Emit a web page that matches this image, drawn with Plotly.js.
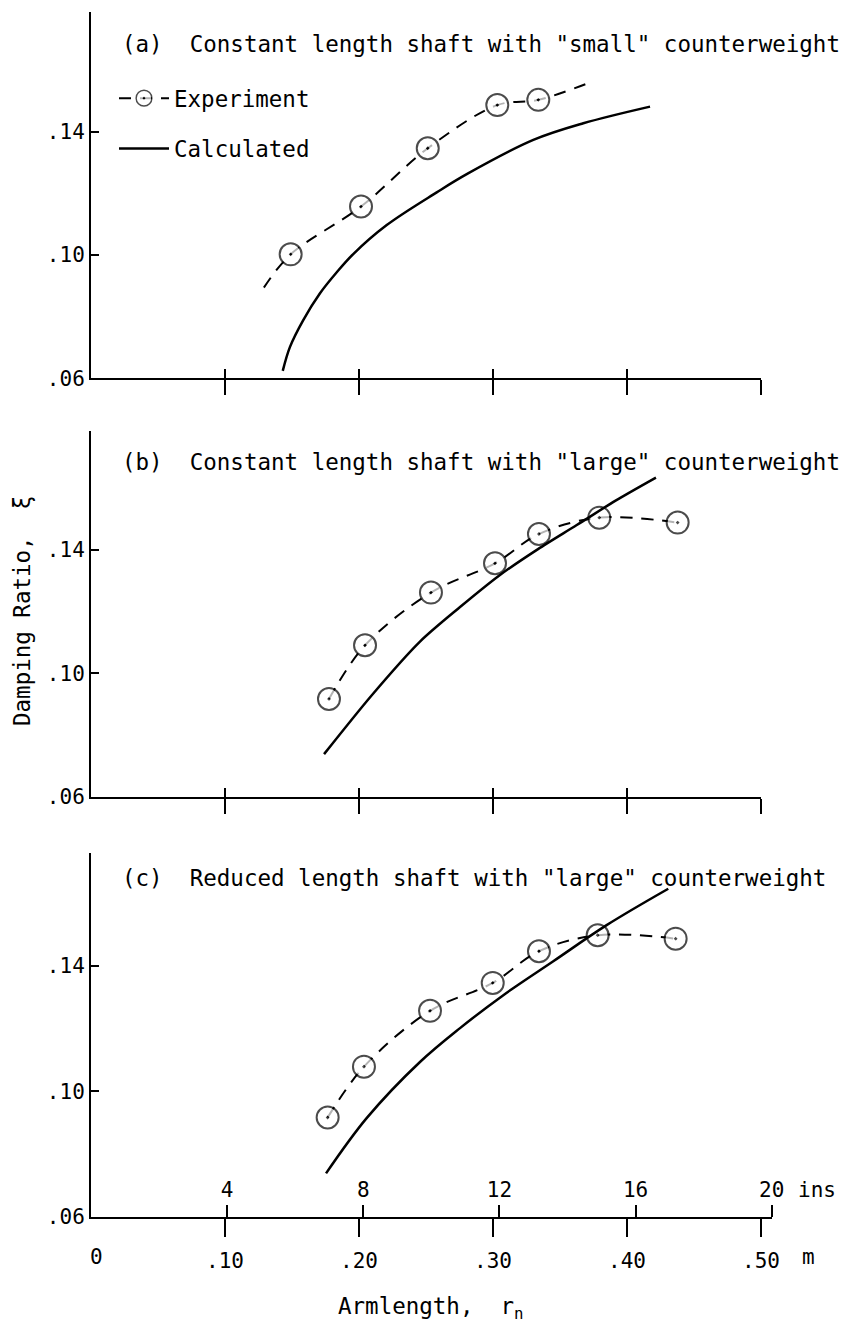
<!DOCTYPE html>
<html>
<head>
<meta charset="utf-8">
<script src="https://cdn.plot.ly/plotly-3.0.1.min.js"></script>
<style>html,body{margin:0;padding:0;background:#fff;}</style>
</head>
<body>
<div id="chart" style="width:846px;height:1331px;"></div>
<script>
// ---------------- data ----------------
// tick labels
const yTickVals = [0.06, 0.10, 0.14];
const yTickText = ['.06', '.10', '.14'];
const mTickVals = [0.1, 0.2, 0.3, 0.4, 0.5];
const mTickText = ['.10', '.20', '.30', '.40', '.50'];
const inTickVals = [4, 8, 12, 16, 20];
const inTickText = ['4', '8', '12', '16', '20'];

// panel titles
const titleA = '(a)\u00a0\u00a0Constant length shaft with "small" counterweight';
const titleB = '(b)\u00a0\u00a0Constant length shaft with "large" counterweight';
const titleC = '(c)\u00a0\u00a0Reduced length shaft with "large" counterweight';

// (a) constant length shaft, small counterweight   (armlength r_n [m], damping ratio)
const expA_r = [0.149, 0.2015, 0.2513, 0.3032, 0.3338];
const expA_z = [0.1002, 0.1157, 0.1346, 0.1486, 0.1503];
const expA_curveEnds_r = [0.129, 0.372];     // dashed experiment curve extends past the points
const expA_curveEnds_z = [0.0894, 0.1559];
const calcA_r = [0.1431, 0.1485, 0.1584, 0.1709, 0.1834, 0.1957, 0.2207, 0.2580, 0.2804, 0.3301, 0.3674, 0.4172];
const calcA_z = [0.0624, 0.0702, 0.0789, 0.0876, 0.0944, 0.1003, 0.1097, 0.1203, 0.1262, 0.1373, 0.1427, 0.1481];

// (b) constant length shaft, large counterweight
const expB_r = [0.1776, 0.2045, 0.2537, 0.3015, 0.3343, 0.3793, 0.4378];
const expB_z = [0.0917, 0.1091, 0.1262, 0.1357, 0.1452, 0.1505, 0.1489];
const calcB_r = [0.1739, 0.2097, 0.2455, 0.2754, 0.3052, 0.3336, 0.3625, 0.3918, 0.4216];
const calcB_z = [0.0738, 0.0930, 0.1103, 0.1215, 0.1319, 0.1403, 0.1481, 0.1561, 0.1635];

// (c) reduced length shaft, large counterweight
const expC_r = [0.1766, 0.2037, 0.2530, 0.2998, 0.3343, 0.3781, 0.4363];
const expC_z = [0.0917, 0.1079, 0.1257, 0.1346, 0.1447, 0.1498, 0.1487];
const calcC_r = [0.1754, 0.2057, 0.2455, 0.2754, 0.3077, 0.3450, 0.3848, 0.4308];
const calcC_z = [0.0739, 0.0915, 0.1094, 0.1202, 0.1307, 0.1415, 0.1530, 0.1646];

// ---------------- layout geometry ----------------
const W = 846, H = 1331;
const FONT = 'DejaVu Sans Mono, monospace';
const X0 = 91, PX_PER_M = 1340;
const M_PER_IN = 0.0254;
const fx = p => p / W;
const fy = p => 1 - p / H;
const domAB = [fx(X0), fx(X0 + 0.5 * PX_PER_M)];
const domC = [fx(X0), fx(X0 + 20 * M_PER_IN * PX_PER_M)];
const yTopA = 0.1787, yTopB = 0.1787, yTopC = 0.176;
const axisC_px = 1217;

const DASH = '12px,9px';
const MK = 22;

function expMarker(n, hiddenEnds) {
  const size = [], lw = [];
  for (let i = 0; i < n; i++) {
    const hide = hiddenEnds && (i === 0 || i === n - 1);
    size.push(hide ? 0 : MK);
    lw.push(hide ? 0 : 2);
  }
  return {symbol: 'circle-dot', size: size, color: 'white', line: {color: 'black', width: lw}};
}

const xA = [expA_curveEnds_r[0]].concat(expA_r, [expA_curveEnds_r[1]]);
const yA = [expA_curveEnds_z[0]].concat(expA_z, [expA_curveEnds_z[1]]);

// placeholder traces so that the secondary tick axes get drawn (no visible marks)
function axisHolder(xa, ya) {
  return {x: [null], y: [null], xaxis: xa, yaxis: ya, mode: 'markers', showlegend: false,
    hoverinfo: 'skip', marker: {size: 1, color: 'rgba(0,0,0,0)'}};
}

const traces = [
  {x: xA, y: yA, xaxis: 'x', yaxis: 'y', mode: 'lines+markers', name: 'Experiment',
   legendgroup: 'exp', showlegend: true,
   line: {color: 'black', width: 2, dash: DASH, shape: 'spline'}, marker: expMarker(xA.length, true)},
  {x: calcA_r, y: calcA_z, xaxis: 'x', yaxis: 'y', mode: 'lines', name: 'Calculated',
   legendgroup: 'calc', showlegend: true,
   line: {color: 'black', width: 2.5, shape: 'spline', smoothing: 1}},
  {x: expB_r, y: expB_z, xaxis: 'x2', yaxis: 'y2', mode: 'lines+markers', showlegend: false,
   line: {color: 'black', width: 2, dash: DASH, shape: 'spline'}, marker: expMarker(expB_r.length, false)},
  {x: calcB_r, y: calcB_z, xaxis: 'x2', yaxis: 'y2', mode: 'lines', showlegend: false,
   line: {color: 'black', width: 2.5, shape: 'spline', smoothing: 0.8}},
  {x: expC_r, y: expC_z, xaxis: 'x3', yaxis: 'y3', mode: 'lines+markers', showlegend: false,
   line: {color: 'black', width: 2, dash: DASH, shape: 'spline'}, marker: expMarker(expC_r.length, false)},
  {x: calcC_r, y: calcC_z, xaxis: 'x3', yaxis: 'y3', mode: 'lines', showlegend: false,
   line: {color: 'black', width: 2.5, shape: 'spline', smoothing: 1}},
  axisHolder('x4', 'y'),
  axisHolder('x5', 'y2'),
  axisHolder('x6', 'y3')
];

const tickFont = {family: FONT, size: 21, color: 'black'};

function mainX(anchor, dom, range, labels, len) {
  return {anchor: anchor, domain: dom, range: range, showline: true, linecolor: 'black', linewidth: 2,
    ticks: 'outside', ticklen: len, tickwidth: 2, tickcolor: 'black', tickvals: mTickVals,
    ticktext: mTickText, showticklabels: labels, tickfont: tickFont, ticklabelstandoff: 6,
    showgrid: false, zeroline: false, fixedrange: true};
}
function innerX(over, anchor, dom, range) {
  return {overlaying: over, anchor: anchor, domain: dom, range: range, showline: false,
    ticks: 'inside', ticklen: 9, tickwidth: 2, tickcolor: 'black', tickvals: mTickVals,
    showticklabels: false, showgrid: false, zeroline: false, fixedrange: true};
}
function yAx(anchor, bottomPx, topPx, top) {
  return {anchor: anchor, domain: [fy(bottomPx), fy(topPx)], range: [0.06, top],
    showline: true, linecolor: 'black', linewidth: 2, ticks: 'inside', ticklen: 8, tickwidth: 2,
    tickcolor: 'black', tickvals: yTickVals.concat([top]), ticktext: yTickText.concat(['']),
    tickfont: tickFont, showgrid: false, zeroline: false, fixedrange: true};
}

const annFont = {family: FONT, size: 22.5, color: 'black'};
function paperText(text, xp, yp, extra) {
  return Object.assign({text: text, xref: 'paper', yref: 'paper', x: fx(xp), y: fy(yp),
    xanchor: 'left', yanchor: 'middle', showarrow: false, font: annFont}, extra || {});
}

const layout = {
  width: W, height: H,
  margin: {l: 0, r: 0, t: 0, b: 0},
  paper_bgcolor: 'white', plot_bgcolor: 'rgba(0,0,0,0)',
  showlegend: true,
  legend: {x: fx(114), xanchor: 'left', y: fy(77), yanchor: 'top', traceorder: 'grouped',
    tracegroupgap: 18, itemwidth: 50, font: {family: FONT, size: 22.5, color: 'black'},
    bgcolor: 'rgba(0,0,0,0)', borderwidth: 0},
  xaxis: mainX('y', domAB, [0, 0.5], false, 15),
  xaxis4: innerX('x', 'y', domAB, [0, 0.5]),
  yaxis: yAx('x', 378.3, 12.3, yTopA),
  xaxis2: mainX('y2', domAB, [0, 0.5], false, 15),
  xaxis5: innerX('x2', 'y2', domAB, [0, 0.5]),
  yaxis2: yAx('x2', 796.7, 430.7, yTopB),
  xaxis3: mainX('y3', domC, [0, 20 * M_PER_IN], true, 18),
  // inch scale: drawn on the same line, ticks and labels above it
  xaxis6: {overlaying: 'x3', anchor: 'free', position: fy(axisC_px), side: 'top', domain: domC,
    range: [0, 20], showline: false, ticks: 'outside', ticklen: 12, tickwidth: 2, tickcolor: 'black',
    tickvals: inTickVals, ticktext: inTickText, tickfont: tickFont, ticklabelstandoff: 0,
    showgrid: false, zeroline: false, fixedrange: true},
  yaxis3: yAx('x3', axisC_px, 853, yTopC),
  annotations: [
    paperText(titleA, 120, 44),
    paperText(titleB, 120, 462),
    paperText(titleC, 120, 878),
    paperText('Damping Ratio,\u00a0\u00a0\u03be', 22, 611, {xanchor: 'center', textangle: -90}),
    paperText('Armlength,\u00a0\u00a0r<sub>n</sub>', 336, 1308),
    {text: '0', xref: 'x3', yref: 'paper', x: 0, y: fy(1257), xanchor: 'center', yanchor: 'middle',
     xshift: 5, showarrow: false, font: tickFont},
    paperText('m', 800, 1257, {font: tickFont}),
    paperText('ins', 796, 1190, {font: tickFont})
  ]
};

Plotly.newPlot('chart', traces, layout, {displayModeBar: false, staticPlot: true});
</script>
</body>
</html>
